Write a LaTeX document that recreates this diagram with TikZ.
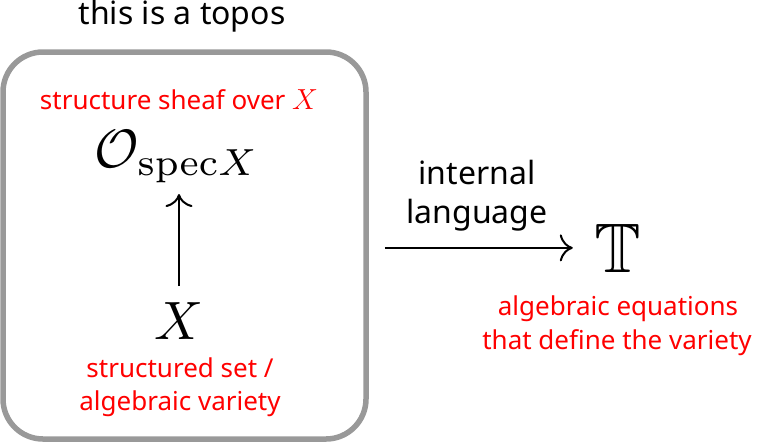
\documentclass[tikz,border=0pt]{standalone}
\usepackage{fix-cm}
\usepackage{amssymb}
\usepackage[no-math]{fontspec}
\setmainfont{Noto Sans}
\usetikzlibrary{arrows.meta}
\definecolor{boxgray}{HTML}{999999}
\tikzset{
  blacktxt/.style={anchor=base, font=\fontsize{32}{38}\selectfont, inner sep=0pt},
  redtxt/.style={anchor=base, text=red, font=\fontsize{26}{33}\selectfont, inner sep=0pt, align=center},
  mathbig/.style={anchor=base, inner sep=0pt, scale=5.4},
  arr/.style={line width=2pt, -{Computer Modern Rightarrow[length=13pt,width=27pt,line width=2pt]}},
}
\begin{document}
\begin{tikzpicture}[x=1pt,y=-1pt]
\useasboundingbox (0,0) rectangle (757,445);
\node[draw=boxgray, line width=5.5pt, rounded corners=40pt, minimum width=363pt, minimum height=387pt, inner sep=0pt] (box) at (184.5,245.5) {};
\node[blacktxt] (title) at (182,24) {this is a topos};
\node[redtxt] (sheaflbl) at (179,109) {structure sheaf over {\fontsize{29}{33}\selectfont$X$}};
\node[mathbig] (O) at (177,167) {$\mathcal{O}_{\mathrm{spec}X}$};
\node[mathbig] (X) at (179,339) {$X$};
\node[redtxt] (setlbl1) at (180,377) {structured set /};
\node[redtxt] (setlbl2) at (180,410) {algebraic variety};
\node[blacktxt] (int1) at (477,184) {internal};
\node[blacktxt] (int2) at (477,223) {language};
\node[anchor=base, inner sep=0pt, scale=7] (T) at (618,272) {$\mathbb{T}$};
\node[redtxt] (eq1) at (618,315) {algebraic equations};
\node[redtxt] (eq2) at (617,349) {that define the variety};
\draw[arr, shorten <=15pt, shorten >=10.5pt] (X.north) -- (X.north |- O.south);
\draw[arr, shorten <=16pt, shorten >=20.5pt] (box.east |- T.center) -- (T.west);
\end{tikzpicture}
\end{document}
